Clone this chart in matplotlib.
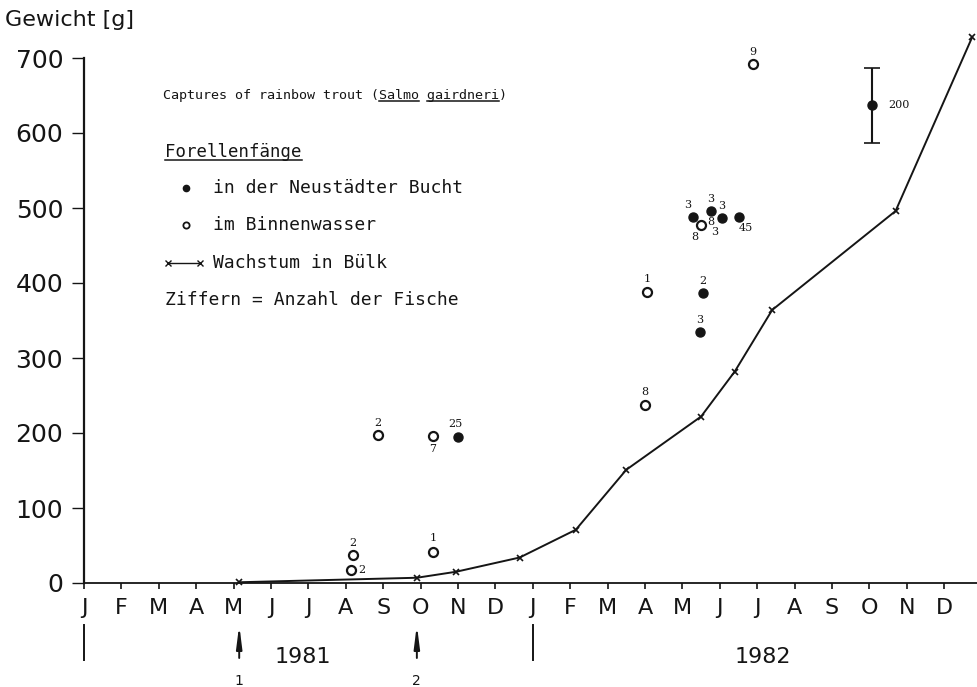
import matplotlib
matplotlib.use('Agg')
import matplotlib.pyplot as plt
from matplotlib import transforms as mtransforms
from matplotlib.patches import ArrowStyle

W, H = 978, 687

# month axis: 0 = 1 Jan 1981
month_labels = ['J', 'F', 'M', 'A', 'M', 'J', 'J', 'A', 'S', 'O', 'N', 'D'] * 2 + ['J']
y_ticks = [0, 100, 200, 300, 400, 500, 600, 700]

# growth in Buelk (x---x)
growth_month = [4.15, 8.9, 9.95, 11.65, 13.15, 14.5, 16.5, 17.4, 18.4, 21.7, 23.75]
growth_weight = [1, 7, 15, 34, 71, 151, 222, 282, 364, 496, 728]

# catches in Neustaedter Bucht (filled)
bay_month = [10.0, 16.55, 16.47, 16.28, 16.76, 17.06, 17.51, 21.07]
bay_weight = [195, 387, 335, 488, 496, 487, 488, 637]
bay_count = ['25', '2', '3', '3', '3', '3', '45', '200']

# catches in Binnenwasser (open)
inland_month = [7.86, 9.33, 7.19, 7.14, 9.33, 15.05, 15.0, 16.5, 17.89]
inland_weight = [197, 196, 37, 17, 41, 388, 237, 477, 692]
inland_count = ['2', '7', '2', '2', '1', '1', '8', '8', '9']

# range for the 200 fish sample
err_month = 21.07
err_low, err_high = 587, 687

ink = '#151515'

fig = plt.figure(figsize=(9.78, 6.87), dpi=100)
ax = fig.add_axes([84 / W, 104 / H, 37.4 * 24.05 / W, 562.5 / H])
ax.set_xlim(0, 24.05)
ax.set_ylim(0, 750)

for s in ['top', 'right']:
    ax.spines[s].set_visible(False)
ax.spines['left'].set_bounds(0, 700)
ax.spines['left'].set_linewidth(1.6)
ax.spines['bottom'].set_linewidth(1.3)
ax.spines['left'].set_color(ink)
ax.spines['bottom'].set_color(ink)

ax.set_yticks(y_ticks)
ax.set_yticklabels([str(v) for v in y_ticks])
ax.set_xticks(range(len(month_labels)))
ax.set_xticklabels(month_labels)
ax.tick_params(axis='y', direction='out', length=9, width=1, pad=6,
               labelsize=18, colors=ink)
ax.tick_params(axis='x', direction='out', length=4.5, width=1.2, pad=6,
               labelsize=16, colors=ink)

# growth line
ax.plot(growth_month, growth_weight, color=ink, lw=1.4, marker='x', ms=4.5,
        mew=1.2, clip_on=False, zorder=3)

# catches
ax.errorbar([err_month], [(err_low + err_high) / 2], yerr=[[(err_high - err_low) / 2]],
            fmt='none', ecolor=ink, elinewidth=1.5, capsize=6, capthick=1.2, zorder=2)
ax.plot(bay_month, bay_weight, 'o', color=ink, ms=6.5, zorder=4, ls='none')
ax.plot(inland_month, inland_weight, 'o', mfc='white', mec=ink, mew=1.6, ms=6.5,
        zorder=4, ls='none')

# count labels, offsets in pixels (dx, dy up)
bay_off = [(-3, 13), (0, 12), (0, 12), (-5, 12), (0, 12), (0, 12), (7, -11), (16, 0)]
inland_off = [(0, 12), (0, -13), (0, 12), (11, 0), (0, 14), (0, 13), (0, 13), (-6, -12), (0, 12)]
for mm, ww, lab, (dx, dy) in zip(bay_month, bay_weight, bay_count, bay_off):
    tr = mtransforms.offset_copy(ax.transData, fig=fig, x=dx, y=dy, units='dots')
    ax.text(mm, ww, lab, transform=tr, ha='center' if dx <= 8 else 'left', va='center',
            fontsize=8, color=ink, family='DejaVu Serif')
for mm, ww, lab, (dx, dy) in zip(inland_month, inland_weight, inland_count, inland_off):
    tr = mtransforms.offset_copy(ax.transData, fig=fig, x=dx, y=dy, units='dots')
    ax.text(mm, ww, lab, transform=tr, ha='center', va='center',
            fontsize=8, color=ink, family='DejaVu Serif')
# two stray count marks in the June cluster
for mm, ww, lab, (dx, dy) in [(16.76, 496, '8', (0, -11)), (16.76, 496, '3', (4, -21))]:
    tr = mtransforms.offset_copy(ax.transData, fig=fig, x=dx, y=dy, units='dots')
    ax.text(mm, ww, lab, transform=tr, ha='center', va='center',
            fontsize=8, color=ink, family='DejaVu Serif')

# overlay in pixel coordinates for annotations
ov = fig.add_axes([0, 0, 1, 1], zorder=5)
ov.set_xlim(0, W)
ov.set_ylim(H, 0)
ov.axis('off')
ov.patch.set_alpha(0)

ov.text(5, 20, 'Gewicht [g]', fontsize=16, va='center', ha='left', color=ink)

mono = 'DejaVu Sans Mono'
title = 'Captures of rainbow trout (Salmo gairdneri)'
t_title = ov.text(163, 95, title, family=mono, fontsize=9.6, va='center', ha='left', color=ink)
t_fore = ov.text(165, 152, 'Forellenfänge', family=mono, fontsize=12.5, va='center',
                 ha='left', color=ink)
ov.text(213, 188, 'in der Neustädter Bucht', family=mono, fontsize=13, va='center',
        ha='left', color=ink)
ov.text(213, 225, 'im Binnenwasser', family=mono, fontsize=13, va='center',
        ha='left', color=ink)
ov.text(213, 263, 'Wachstum in Bülk', family=mono, fontsize=13, va='center',
        ha='left', color=ink)
ov.text(165, 300, 'Ziffern = Anzahl der Fische', family=mono, fontsize=13, va='center',
        ha='left', color=ink)

# legend symbols
ov.plot([186], [188], 'o', color=ink, ms=4.5)
ov.plot([186], [225], 'o', mfc='white', mec=ink, mew=1.3, ms=4.5)
ov.plot([168, 200], [263, 263], color=ink, lw=1, marker='x', ms=4, mew=1)

# underlines
fig.canvas.draw()
rend = fig.canvas.get_renderer()
bb = t_title.get_window_extent(rend)
cw = bb.width / len(title)
uy = H - bb.y0 - 1
for word in ['Salmo', 'gairdneri']:
    i = title.index(word)
    ov.plot([bb.x0 + i * cw, bb.x0 + (i + len(word)) * cw], [uy, uy], color=ink, lw=1.1)
bb = t_fore.get_window_extent(rend)
ov.plot([bb.x0, bb.x1], [H - bb.y0 - 1, H - bb.y0 - 1], color=ink, lw=1.1)

# year separators and markers below the month axis
blend = mtransforms.blended_transform_factory(ax.transData, ov.transData)
for mm in [0, 12]:
    ov.plot([mm, mm], [625, 660], color=ink, lw=1.4, transform=blend, clip_on=False)
for mm, lab in [(growth_month[0], '1'), (growth_month[1], '2')]:
    ov.annotate('', xy=(mm, 625), xytext=(mm, 658), xycoords=blend, textcoords=blend,
                arrowprops=dict(arrowstyle=ArrowStyle('-|>', head_length=1.1, head_width=0.14),
                                color=ink, lw=1.4, mutation_scale=12, shrinkA=0, shrinkB=0))
    ov.text(mm, 681, lab, transform=blend, ha='center', va='center', fontsize=10, color=ink)
ov.text(303, 657, '1981', ha='center', va='center', fontsize=16, color=ink)
ov.text(763, 657, '1982', ha='center', va='center', fontsize=16, color=ink)

fig.savefig('out.png', dpi=100)
